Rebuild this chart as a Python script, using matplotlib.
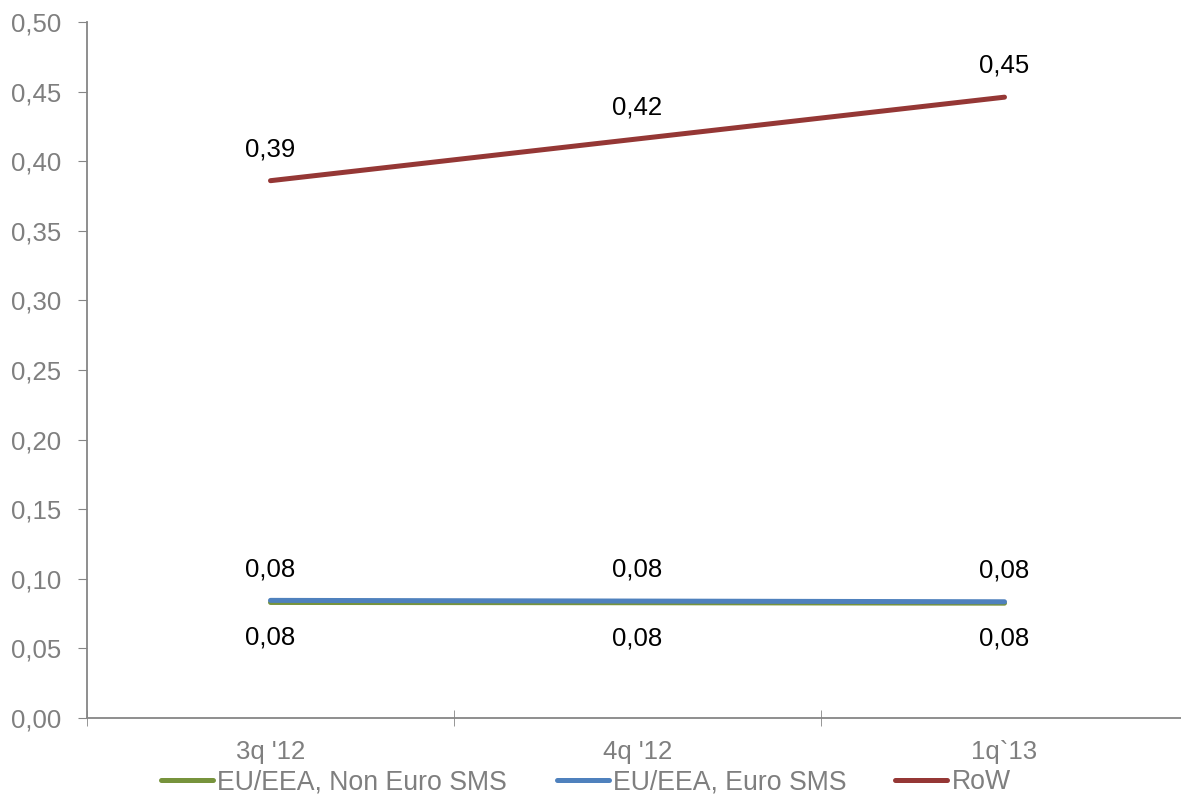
import matplotlib.pyplot as plt
from matplotlib.ticker import FuncFormatter

plt.rcParams['font.family'] = ['Liberation Sans', 'DejaVu Sans']

quarters = ["3q '12", "4q '12", "1q`13"]
non_euro = [0.0830, 0.0828, 0.0825]
euro = [0.0845, 0.0840, 0.0835]
row = [0.386, 0.416, 0.446]

labels_non_euro = ['0,08', '0,08', '0,08']
labels_euro = ['0,08', '0,08', '0,08']
labels_row = ['0,39', '0,42', '0,45']

fig = plt.figure(figsize=(11.81, 7.99), dpi=100)
ax = fig.add_axes([87 / 1181, 81 / 799, 1101 / 1181, 696 / 799])

x = range(len(quarters))
ax.plot(x, non_euro, color='#77933C', lw=3.6, solid_capstyle='round', label='EU/EEA, Non Euro SMS')
ax.plot(x, euro, color='#4F81BD', lw=3.6, solid_capstyle='round', label='EU/EEA, Euro SMS')
ax.plot(x, row, color='#953735', lw=3.6, solid_capstyle='round', label='RoW')

fs = 18.5
for i in x:
    ax.text(i, row[i] + 0.0225, labels_row[i], ha='center', va='center', fontsize=fs)
    ax.text(i, euro[i] + 0.0225, labels_euro[i], ha='center', va='center', fontsize=fs)
    ax.text(i, non_euro[i] - 0.0255, labels_non_euro[i], ha='center', va='center', fontsize=fs)

ax.set_xlim(-0.5, 2.5)
ax.set_ylim(0, 0.5)
ax.set_yticks([i * 0.05 for i in range(11)])
ax.yaxis.set_major_formatter(FuncFormatter(lambda v, p: f'{v:.2f}'.replace('.', ',')))
ax.set_xticks(list(x))
ax.set_xticklabels(quarters)
ax.set_xticks([-0.5, 0.5, 1.5, 2.5], minor=True)

for s in ['top', 'right']:
    ax.spines[s].set_visible(False)
for s in ['left', 'bottom']:
    ax.spines[s].set_color('#868686')
    ax.spines[s].set_linewidth(1.3)

ax.tick_params(axis='y', direction='out', length=6.5, color='#868686', labelsize=fs, labelcolor='#7f7f7f', pad=12)
ax.tick_params(axis='x', which='major', length=0, labelsize=fs, labelcolor='#7f7f7f', pad=16)
ax.tick_params(axis='x', which='minor', direction='inout', length=12, color='#868686')

ax.legend(loc='center', bbox_to_anchor=((586 - 87) / 1101, -0.0925), ncol=3, frameon=False,
          fontsize=19.2, labelcolor='#7f7f7f', handlelength=1.95, handletextpad=0.15,
          columnspacing=1.85, borderaxespad=0, borderpad=0)

fig.savefig('out.png', dpi=100)
